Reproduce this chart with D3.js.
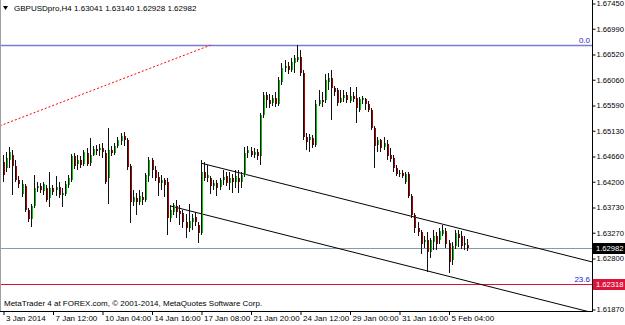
<!DOCTYPE html>
<html>
<head>
<meta charset="utf-8">
<script src="https://cdn.jsdelivr.net/npm/d3@7"></script>
<style>
  body { margin: 0; background: #fff; }
  svg { display: block; }
  text { font-family: "Liberation Sans", Arial, sans-serif; font-size: 8px; fill: #000; }
  .price-label { font-size: 7.6px; }
</style>
</head>
<body>
<svg id="chart" width="625" height="325"></svg>
<script>
const titleText = "GBPUSDpro,H4  1.63041 1.63140 1.62928 1.62982";
const footerText = "MetaTrader 4 at FOREX.com, \u00a9 2001-2014, MetaQuotes Software Corp.";

// H4 candles, oldest first
const openPrices = [
  1.6455,1.6444,1.6459,1.6468,1.6448,1.6422,1.6397,1.6411,1.6368,1.6351,
  1.6375,1.6408,1.6411,1.6402,1.6408,1.6390,1.6408,1.6404,1.6410,1.6395,
  1.6397,1.6413,1.6422,1.6466,1.6452,1.6459,1.6452,1.6472,1.6453,1.6468,
  1.6479,1.6477,1.6481,1.6472,1.6426,1.6477,1.6472,1.6484,1.6493,1.6503,
  1.6495,1.6448,1.6382,1.6390,1.6382,1.6391,1.6386,1.6430,1.6459,1.6441,
  1.6428,1.6417,1.6422,1.6419,1.6353,1.6364,1.6375,1.6366,1.6362,1.6346,
  1.6335,1.6346,1.6355,1.6340,1.6326,1.6437,1.6426,1.6426,1.6411,1.6417,
  1.6410,1.6422,1.6430,1.6417,1.6426,1.6419,1.6426,1.6419,1.6432,1.6472,
  1.6475,1.6468,1.6473,1.6466,1.6541,1.6577,1.6568,1.6563,1.6572,1.6561,
  1.6601,1.6627,1.6630,1.6623,1.6636,1.6641,1.6647,1.6617,1.6501,1.6495,
  1.6499,1.6486,1.6561,1.6568,1.6568,1.6601,1.6608,1.6590,1.6586,1.6565,
  1.6572,1.6577,1.6566,1.6575,1.6572,1.6550,1.6568,1.6570,1.6561,1.6550,
  1.6517,1.6486,1.6495,1.6483,1.6488,1.6468,1.6462,1.6444,1.6433,1.6435,
  1.6419,1.6433,1.6393,1.6359,1.6335,1.6328,1.6309,1.6313,1.6291,1.6309,
  1.6320,1.6313,1.6324,1.6329,1.6307,1.6277,1.6302,1.6324,1.6320,1.6304,
  1.63041
];
const highPrices = [
  1.6468,1.6473,1.6483,1.6477,1.6459,1.6430,1.6422,1.6415,1.6371,1.6379,
  1.6432,1.6419,1.6417,1.6419,1.6413,1.6437,1.6413,1.6430,1.6419,1.6408,
  1.6421,1.6432,1.6470,1.6472,1.6468,1.6466,1.6477,1.6481,1.6499,1.6484,
  1.6486,1.6488,1.6490,1.6477,1.6517,1.6484,1.6490,1.6501,1.6508,1.6510,
  1.6499,1.6452,1.6404,1.6399,1.6404,1.6400,1.6435,1.6464,1.6462,1.6448,
  1.6437,1.6432,1.6426,1.6426,1.6377,1.6380,1.6386,1.6377,1.6368,1.6360,
  1.6379,1.6360,1.6364,1.6346,1.6459,1.6455,1.6450,1.6430,1.6422,1.6422,
  1.6426,1.6441,1.6437,1.6437,1.6433,1.6441,1.6441,1.6437,1.6483,1.6484,
  1.6483,1.6481,1.6479,1.6545,1.6583,1.6583,1.6579,1.6577,1.6583,1.6610,
  1.6636,1.6641,1.6637,1.6645,1.6650,1.6668,1.6659,1.6623,1.6508,1.6506,
  1.6504,1.6568,1.6586,1.6583,1.6616,1.6617,1.6623,1.6594,1.6590,1.6586,
  1.6586,1.6583,1.6592,1.6583,1.6592,1.6574,1.6575,1.6572,1.6566,1.6554,
  1.6521,1.6501,1.6497,1.6501,1.6495,1.6481,1.6468,1.6450,1.6441,1.6441,
  1.6437,1.6437,1.6397,1.6362,1.6346,1.6331,1.6320,1.6328,1.6317,1.6331,
  1.6328,1.6335,1.6340,1.6335,1.6313,1.6309,1.6331,1.6331,1.6329,1.6320,
  1.63140
];
const lowPrices = [
  1.6419,1.6437,1.6444,1.6395,1.6419,1.6408,1.6391,1.6364,1.6346,1.6337,
  1.6371,1.6400,1.6399,1.6395,1.6382,1.6373,1.6395,1.6393,1.6390,1.6373,
  1.6393,1.6408,1.6419,1.6442,1.6441,1.6444,1.6448,1.6448,1.6448,1.6466,
  1.6468,1.6466,1.6462,1.6415,1.6379,1.6466,1.6468,1.6481,1.6486,1.6484,
  1.6441,1.6344,1.6375,1.6359,1.6377,1.6377,1.6382,1.6419,1.6426,1.6421,
  1.6393,1.6404,1.6391,1.6322,1.6346,1.6359,1.6353,1.6340,1.6335,1.6317,
  1.6328,1.6331,1.6339,1.6307,1.6322,1.6421,1.6419,1.6397,1.6404,1.6393,
  1.6404,1.6413,1.6411,1.6404,1.6399,1.6408,1.6399,1.6408,1.6428,1.6462,
  1.6464,1.6462,1.6459,1.6450,1.6535,1.6554,1.6554,1.6557,1.6555,1.6557,
  1.6596,1.6619,1.6616,1.6619,1.6617,1.6637,1.6612,1.6495,1.6477,1.6473,
  1.6481,1.6483,1.6557,1.6555,1.6563,1.6586,1.6532,1.6575,1.6557,1.6563,
  1.6565,1.6563,1.6563,1.6565,1.6526,1.6546,1.6561,1.6550,1.6546,1.6513,
  1.6444,1.6473,1.6473,1.6477,1.6459,1.6455,1.6437,1.6430,1.6428,1.6426,
  1.6415,1.6390,1.6353,1.6326,1.6320,1.6287,1.6298,1.6255,1.6280,1.6295,
  1.6295,1.6306,1.6320,1.6298,1.6253,1.6267,1.6297,1.6300,1.6297,1.6295,
  1.62928
];
const closePrices = [
  1.6431,1.6462,1.6473,1.6448,1.6422,1.6415,1.6415,1.6368,1.6351,1.6375,
  1.6408,1.6411,1.6404,1.6415,1.6386,1.6408,1.6400,1.6410,1.6395,1.6399,
  1.6415,1.6426,1.6466,1.6448,1.6459,1.6450,1.6473,1.6452,1.6468,1.6479,
  1.6475,1.6481,1.6473,1.6419,1.6477,1.6472,1.6484,1.6495,1.6503,1.6495,
  1.6446,1.6382,1.6391,1.6382,1.6393,1.6386,1.6432,1.6459,1.6441,1.6426,
  1.6417,1.6422,1.6413,1.6353,1.6368,1.6377,1.6364,1.6360,1.6346,1.6335,
  1.6348,1.6353,1.6346,1.6326,1.6437,1.6426,1.6432,1.6411,1.6417,1.6408,
  1.6422,1.6428,1.6417,1.6426,1.6419,1.6430,1.6419,1.6432,1.6472,1.6477,
  1.6468,1.6473,1.6466,1.6541,1.6577,1.6568,1.6561,1.6572,1.6561,1.6605,
  1.6627,1.6630,1.6623,1.6637,1.6645,1.6647,1.6617,1.6501,1.6492,1.6501,
  1.6486,1.6561,1.6568,1.6565,1.6605,1.6608,1.6590,1.6583,1.6563,1.6572,
  1.6577,1.6568,1.6575,1.6570,1.6554,1.6570,1.6572,1.6561,1.6550,1.6517,
  1.6484,1.6495,1.6481,1.6490,1.6466,1.6461,1.6444,1.6433,1.6435,1.6430,
  1.6433,1.6393,1.6359,1.6335,1.6328,1.6306,1.6313,1.6291,1.6313,1.6320,
  1.6306,1.6329,1.6331,1.6306,1.6273,1.6302,1.6326,1.6317,1.6302,1.6307,
  1.62982
];

const timeTickBars = [0, 16, 32, 48, 64, 80, 96, 112, 128, 144];
const timeTickLabels = ["3 Jan 2014", "7 Jan 12:00", "10 Jan 04:00", "14 Jan 16:00", "17 Jan 08:00",
  "21 Jan 20:00", "24 Jan 12:00", "29 Jan 00:00", "31 Jan 16:00", "5 Feb 04:00"];
const priceTicks = [1.67450, 1.66990, 1.66520, 1.66060, 1.65590, 1.65130, 1.64660,
  1.64200, 1.63730, 1.63270, 1.62800, 1.61870];

const bidPrice = 1.62982;
const fibLevelNames = ["0.0", "23.6"];
const fibLevelPrices = [1.6668, 1.62318];
const fibTrend = [[-1, 1.6521], [67, 1.6668]];
const channelUpper = [[64, 1.6453], [144, 1.6339]];
const channelLower = [[54, 1.6375], [144, 1.62467]];

const svg = d3.select("#chart");
const plotRight = 592, plotBottom = 311;

const xScale = d3.scaleLinear().domain([0, 144]).range([3, 448.5]);
const yScale = d3.scaleLinear().domain([1.61870, 1.67450]).range([309, 3]);

svg.append("defs").append("clipPath").attr("id", "plotClip")
  .append("rect").attr("x", 0).attr("y", 0).attr("width", plotRight).attr("height", plotBottom);

const plot = svg.append("g").attr("clip-path", "url(#plotClip)");

// horizontal levels
const px = v => Math.round(yScale(v)) + 0.5;
plot.append("line").attr("x1", 0).attr("x2", plotRight)
  .attr("y1", px(fibLevelPrices[0])).attr("y2", px(fibLevelPrices[0]))
  .attr("stroke", "#7b7bd6").attr("stroke-width", 1.5);
plot.append("line").attr("x1", 0).attr("x2", plotRight)
  .attr("y1", px(fibLevelPrices[1])).attr("y2", px(fibLevelPrices[1]))
  .attr("stroke", "#dc143c").attr("stroke-width", 1);
plot.append("line").attr("x1", 0).attr("x2", plotRight)
  .attr("y1", px(bidPrice)).attr("y2", px(bidPrice))
  .attr("stroke", "#8899aa").attr("stroke-width", 1);

// fib trend (dashed red)
plot.append("line")
  .attr("x1", xScale(fibTrend[0][0])).attr("y1", yScale(fibTrend[0][1]))
  .attr("x2", xScale(fibTrend[1][0])).attr("y2", yScale(fibTrend[1][1]))
  .attr("stroke", "red").attr("stroke-dasharray", "2,2");

// channel rays, extended to the right
function ray(pts) {
  const slope = (pts[1][1] - pts[0][1]) / (pts[1][0] - pts[0][0]);
  const farBar = 220;
  plot.append("line")
    .attr("x1", xScale(pts[0][0])).attr("y1", yScale(pts[0][1]))
    .attr("x2", xScale(farBar)).attr("y2", yScale(pts[0][1] + slope * (farBar - pts[0][0])))
    .attr("stroke", "#000").attr("stroke-width", 1);
}
ray(channelUpper);
ray(channelLower);

// candles
const bars = d3.range(openPrices.length);
const candle = plot.append("g").attr("shape-rendering", "crispEdges")
  .selectAll("g").data(bars).join("g");

candle.append("rect")
  .attr("x", i => Math.round(xScale(i)))
  .attr("width", 2)
  .attr("y", i => Math.round(yScale(Math.max(openPrices[i], closePrices[i]))))
  .attr("height", i => Math.max(1, Math.round(Math.abs(yScale(openPrices[i]) - yScale(closePrices[i])))))
  .attr("fill", i => closePrices[i] >= openPrices[i] ? "#00c800" : "#a80000");

candle.append("rect")
  .attr("x", i => Math.round(xScale(i)))
  .attr("width", 1)
  .attr("y", i => Math.round(yScale(highPrices[i])))
  .attr("height", i => Math.max(1, Math.round(yScale(lowPrices[i]) - yScale(highPrices[i]))))
  .attr("fill", "#111");

// level captions
plot.append("text").attr("x", 590).attr("y", px(fibLevelPrices[0]) - 3)
  .attr("text-anchor", "end").style("fill", "#2222cc").text(fibLevelNames[0]);
plot.append("text").attr("x", 590).attr("y", px(fibLevelPrices[1]) - 3)
  .attr("text-anchor", "end").style("fill", "#2222cc").text(fibLevelNames[1]);

// frame
svg.append("line").attr("x1", 0.5).attr("x2", 0.5).attr("y1", 0).attr("y2", plotBottom)
  .attr("stroke", "#a0a0a0");
svg.append("line").attr("x1", plotRight + 0.5).attr("x2", plotRight + 0.5).attr("y1", 0).attr("y2", plotBottom + 0.5)
  .attr("stroke", "#000");
svg.append("line").attr("x1", 0).attr("x2", plotRight + 1).attr("y1", plotBottom + 0.5).attr("y2", plotBottom + 0.5)
  .attr("stroke", "#000");

// price axis
const yAxis = d3.axisRight(yScale).tickValues(priceTicks).tickSize(3).tickPadding(1)
  .tickFormat(d3.format(".5f"));
const yAxisG = svg.append("g").attr("transform", `translate(${plotRight + 0.5},0.5)`).call(yAxis);
yAxisG.select(".domain").remove();
yAxisG.selectAll("text").attr("class", "price-label")
  .style("font-family", "\"Liberation Sans\", Arial, sans-serif").attr("font-size", null);

// highlighted price boxes
function priceBox(value, bg) {
  const y = Math.round(yScale(value));
  svg.append("rect").attr("x", plotRight + 1).attr("y", y - 5).attr("width", 625 - plotRight - 1).attr("height", 11)
    .attr("fill", bg);
  svg.append("text").attr("class", "price-label").attr("x", 596).attr("y", y + 3)
    .style("fill", "#fff").text(d3.format(".5f")(value));
}
priceBox(fibLevelPrices[1], "#dc143c");
priceBox(bidPrice, "#000");

// time axis
const xAxis = d3.axisBottom(xScale).tickValues(timeTickBars).tickSize(4).tickPadding(2)
  .tickFormat((d, i) => timeTickLabels[i]);
const xAxisG = svg.append("g").attr("transform", `translate(0.5,${plotBottom})`).call(xAxis);
xAxisG.select(".domain").remove();
xAxisG.selectAll("text").attr("text-anchor", "start").attr("x", 2).attr("dy", "0.55em")
  .style("font-family", "\"Liberation Sans\", Arial, sans-serif").attr("font-size", null);

// title and footer
svg.append("path").attr("d", "M3,6 L8,6 L5.5,10 Z").attr("fill", "#000");
svg.append("text").attr("x", 14).attr("y", 11).text(titleText);
svg.append("text").attr("x", 4).attr("y", 306).text(footerText);
</script>
</body>
</html>
